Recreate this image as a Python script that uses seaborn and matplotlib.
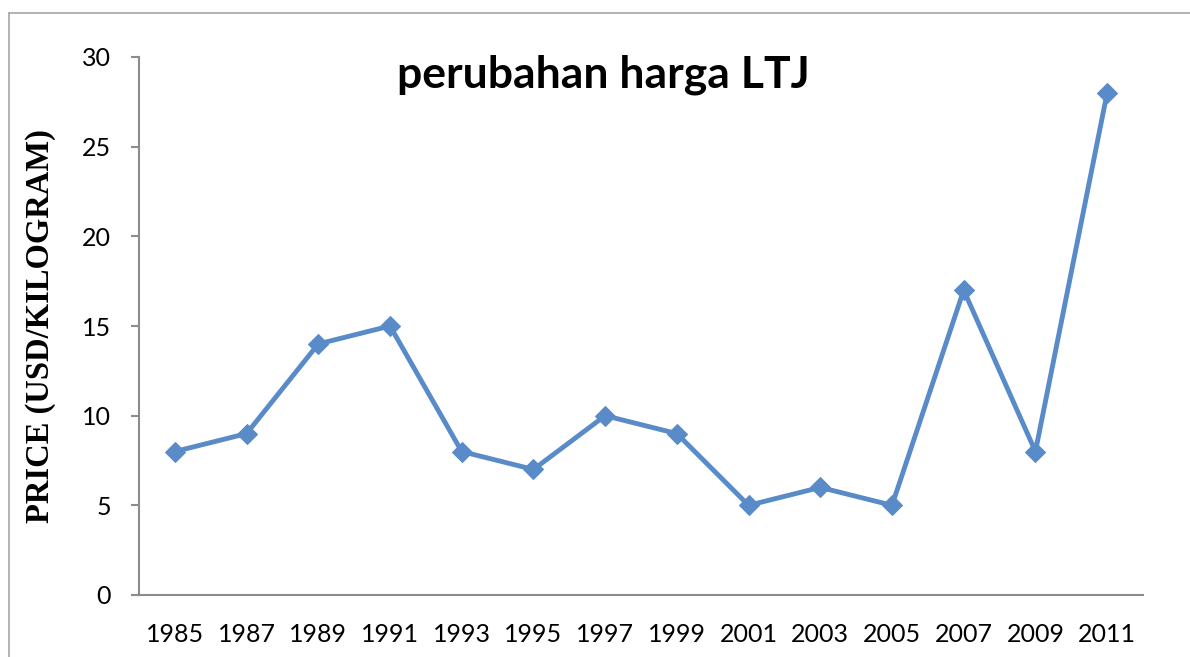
import numpy as np
import pandas as pd
import matplotlib.pyplot as plt
import seaborn as sns
from matplotlib.lines import Line2D

# data
years = ['1985', '1987', '1989', '1991', '1993', '1995', '1997',
         '1999', '2001', '2003', '2005', '2007', '2009', '2011']
prices = [8, 9, 14, 15, 8, 7, 10, 9, 5, 6, 5, 17, 8, 28]
y_ticks = [0, 5, 10, 15, 20, 25, 30]

df = pd.DataFrame({'pos': np.arange(len(years)), 'price': prices})

sns.set_style('white')
plt.rcParams['font.family'] = ['Lato', 'DejaVu Sans']
plt.rcParams['text.color'] = 'black'
plt.rcParams['axes.labelcolor'] = 'black'
plt.rcParams['xtick.labelcolor'] = 'black'
plt.rcParams['ytick.labelcolor'] = 'black'

fig = plt.figure(figsize=(11.9, 6.57), dpi=100)
ax = fig.add_axes([139 / 1190, 1 - 595 / 657, (1143 - 139) / 1190, (595 - 57) / 657])

blue = '#5A8BC9'
sns.lineplot(data=df, x='pos', y='price', ax=ax, color=blue, linewidth=3.5,
             marker='D', markersize=10, markeredgecolor=blue)

ax.set_xlim(-0.5, len(years) - 0.5)
ax.set_ylim(0, 30)
ax.set_yticks(y_ticks)
ax.set_yticklabels([str(t) for t in y_ticks], fontsize=18)
ax.set_xticks(np.arange(len(years)))
ax.set_xticklabels(years, fontsize=18)
ax.set_xticks(np.arange(-0.5, len(years)), minor=True)
ax.tick_params(axis='x', which='major', length=0, pad=20)
ax.tick_params(axis='x', which='minor', length=6, width=1.5, color='#8C8C8C', direction='out')
ax.tick_params(axis='y', length=6, width=1.5, color='#8C8C8C', direction='out', pad=14, left=True)
ax.set_xlabel('')

for s in ['top', 'right']:
    ax.spines[s].set_visible(False)
for s in ['left', 'bottom']:
    ax.spines[s].set_color('#8C8C8C')
    ax.spines[s].set_linewidth(1.5)

ax.set_ylabel('PRICE (USD/KILOGRAM)', fontsize=23.5, fontweight='bold',
              family='Liberation Serif', color='black')
ax.yaxis.set_label_coords(-0.083, 0.5)

fig.text(603 / 1190, 1 - 75 / 657, 'perubahan harga LTJ', ha='center', va='center',
         fontsize=32, fontweight='bold', color='black')

# outer chart border (left and top visible in the crop)
fig.add_artist(Line2D([9 / 1190, 9 / 1190], [0, 1 - 13 / 657], color='#A6A6A6', lw=1.2))
fig.add_artist(Line2D([9 / 1190, 1], [1 - 13 / 657, 1 - 13 / 657], color='#A6A6A6', lw=1.2))

fig.savefig('out.png', dpi=100)
